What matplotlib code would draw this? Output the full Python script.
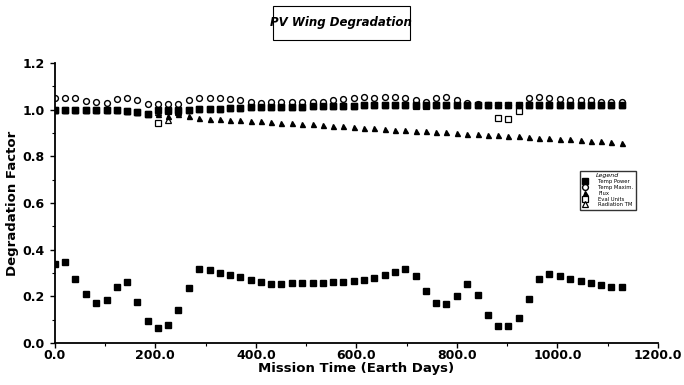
import matplotlib
matplotlib.use("Agg")
import matplotlib.pyplot as plt
from matplotlib.ticker import MultipleLocator, FormatStrFormatter
from matplotlib.patches import Rectangle

# mission day of every sample
days = [0, 21, 41, 62, 82, 103, 123, 144, 164, 185, 205, 226, 246, 267, 287,
        308, 328, 349, 369, 390, 410, 431, 451, 472, 492, 513, 533, 554, 574,
        595, 615, 636, 656, 677, 697, 718, 738, 759, 779, 800, 820, 841, 861,
        882, 902, 923, 943, 964, 984, 1005, 1025, 1046, 1066, 1087, 1107, 1128]

step_power = [1.0, 1.0, 1.0, 1.0, 1.0, 1.0, 1.0, 0.995, 0.99, 0.98, 1.0, 1.0,
              1.0, 1.0, 1.005, 1.005, 1.005, 1.008, 1.008, 1.01, 1.01, 1.01,
              1.012, 1.012, 1.012, 1.015, 1.015, 1.015, 1.018, 1.018, 1.02,
              1.02, 1.02, 1.02, 1.02, 1.02, 1.02, 1.02, 1.02, 1.02, 1.02,
              1.02, 1.02, 1.02, 1.02, 1.02, 1.02, 1.02, 1.02, 1.02, 1.02,
              1.02, 1.02, 1.02, 1.02, 1.02]
temp_max = [1.05, 1.05, 1.05, 1.036, 1.035, 1.03, 1.045, 1.05, 1.04, 1.025,
            1.025, 1.025, 1.025, 1.04, 1.05, 1.05, 1.05, 1.045, 1.04, 1.035,
            1.03, 1.035, 1.035, 1.035, 1.035, 1.035, 1.035, 1.04, 1.045, 1.05,
            1.055, 1.05, 1.055, 1.055, 1.05, 1.04, 1.035, 1.05, 1.055, 1.04,
            1.03, 1.025, 1.02, 1.02, 1.02, 1.02, 1.05, 1.055, 1.05, 1.045,
            1.04, 1.04, 1.04, 1.035, 1.035, 1.035]
flux = [1.0, 1.0, 1.0, 1.0, 1.0, 1.0, 1.0, 0.995, 0.99, 0.985, 0.98, 0.975,
        0.98, 0.975, 0.965, 0.962, 0.96, 0.957, 0.955, 0.952, 0.95, 0.947,
        0.945, 0.942, 0.94, 0.937, 0.934, 0.931, 0.929, 0.926, 0.923, 0.921,
        0.918, 0.915, 0.913, 0.911, 0.908, 0.905, 0.903, 0.9, 0.898, 0.895,
        0.893, 0.891, 0.888, 0.886, 0.883, 0.881, 0.878, 0.876, 0.873, 0.87,
        0.867, 0.865, 0.86, 0.858]
eval_units = [1.0, 1.0, 1.0, 1.0, 1.0, 1.0, 1.0, 0.995, 0.99,
              0.98, 0.945, 0.995, 0.995, 1.0, 1.005, 1.005, 1.005, 1.008, 1.008,
              1.01, 1.01, 1.01, 1.012, 1.012, 1.012, 1.015, 1.015, 1.015,
              1.018, 1.018, 1.02, 1.02, 1.02, 1.02, 1.02, 1.015, 1.015,
              1.02, 1.02, 1.02, 1.02, 1.02, 1.02, 0.965, 0.962, 0.995,
              1.02, 1.02, 1.02, 1.02, 1.02, 1.02, 1.02, 1.02, 1.02,
              1.02]
radiation = [1.0, 1.0, 1.0, 1.0, 1.0, 1.0, 1.0, 0.995, 0.99, 0.98, 0.99, 0.958,
             0.99, 1.0, 1.005, 1.005, 1.005, 1.008, 1.008, 1.01, 1.01, 1.01,
             1.012, 1.012, 1.012, 1.015, 1.015, 1.015, 1.018, 1.018, 1.02,
             1.02, 1.02, 1.02, 1.02, 1.02, 1.02, 1.02, 1.02, 1.02, 1.02,
             1.02, 1.02, 1.02, 1.02, 1.02, 1.02, 1.02, 1.02, 1.02, 1.02,
             1.02, 1.02, 1.02, 1.02, 1.02]
beta = [0.339, 0.349, 0.274, 0.211, 0.170, 0.186, 0.239, 0.263, 0.177, 0.094,
        0.064, 0.076, 0.141, 0.236, 0.318, 0.313, 0.301, 0.293, 0.283, 0.270,
        0.260, 0.254, 0.254, 0.256, 0.256, 0.256, 0.258, 0.260, 0.263, 0.266,
        0.269, 0.279, 0.293, 0.306, 0.318, 0.288, 0.224, 0.173, 0.167, 0.203,
        0.253, 0.206, 0.119, 0.074, 0.073, 0.109, 0.189, 0.274, 0.294, 0.287,
        0.276, 0.267, 0.258, 0.249, 0.242, 0.240]

legend_names = ["Temp Power", "Temp Maxim.", "Flux", "Eval Units", "Radiation TM"]

fig = plt.figure(figsize=(6.84, 3.85), dpi=100)
ax = fig.add_axes([0.080, 0.109, 0.882, 0.727])

ms = 4.2
h5, = ax.plot(days, radiation, "^", mfc="white", mec="black", ms=ms, mew=0.9, ls="none")
h4, = ax.plot(days, eval_units, "s", mfc="white", mec="black", ms=ms, mew=0.9, ls="none")
h2, = ax.plot(days, temp_max, "o", mfc="white", mec="black", ms=ms, mew=1.0, ls="none")
h1, = ax.plot(days, step_power, "s", color="black", ms=ms, ls="none")
h3, = ax.plot(days, flux, "^", color="black", ms=ms - 0.6, ls="none")
ax.plot(days, beta, "s", color="black", ms=ms, ls="none")

ax.set_xlim(0, 1200)
ax.set_ylim(0, 1.2)
ax.xaxis.set_major_locator(MultipleLocator(200))
ax.xaxis.set_minor_locator(MultipleLocator(100))
ax.yaxis.set_major_locator(MultipleLocator(0.2))
ax.yaxis.set_minor_locator(MultipleLocator(0.1))
ax.xaxis.set_major_formatter(FormatStrFormatter("%.1f"))
ax.yaxis.set_major_formatter(FormatStrFormatter("%.1f"))
for s in ["top", "right"]:
    ax.spines[s].set_visible(False)
for s in ["left", "bottom"]:
    ax.spines[s].set_linewidth(1.3)
ax.tick_params(which="major", length=3.5, width=1, labelsize=9)
ax.tick_params(which="minor", length=2.5, width=0.8)
ax.tick_params(axis="x", which="major", pad=1)
for lab in ax.get_xticklabels() + ax.get_yticklabels():
    lab.set_fontweight("bold")

ax.set_xlabel("Mission Time (Earth Days)", fontsize=9.5, fontweight="bold", labelpad=0)
ax.set_ylabel("Degradation Factor", fontsize=9.5, fontweight="bold", labelpad=3)

leg = ax.legend([h1, h2, h3, h4, h5], legend_names, loc="upper left",
                bbox_to_anchor=(0.866, 0.625), fontsize=3.8, title="Legend",
                title_fontsize=4.5, frameon=True, fancybox=False,
                edgecolor="black", handlelength=1.0, handletextpad=2.0,
                borderpad=0.5, labelspacing=0.15, markerscale=1.0)
leg.get_title().set_fontstyle("italic")
leg.get_frame().set_linewidth(1.0)

# boxed title
fig.patches.append(Rectangle((0.399, 0.896), 0.2, 0.088, transform=fig.transFigure,
                             facecolor="none", edgecolor="black", lw=0.8))
fig.text(0.499, 0.942, "PV Wing Degradation", ha="center", va="center",
         fontsize=8.5, fontweight="bold", fontstyle="italic")

fig.savefig("out.png", dpi=100)
